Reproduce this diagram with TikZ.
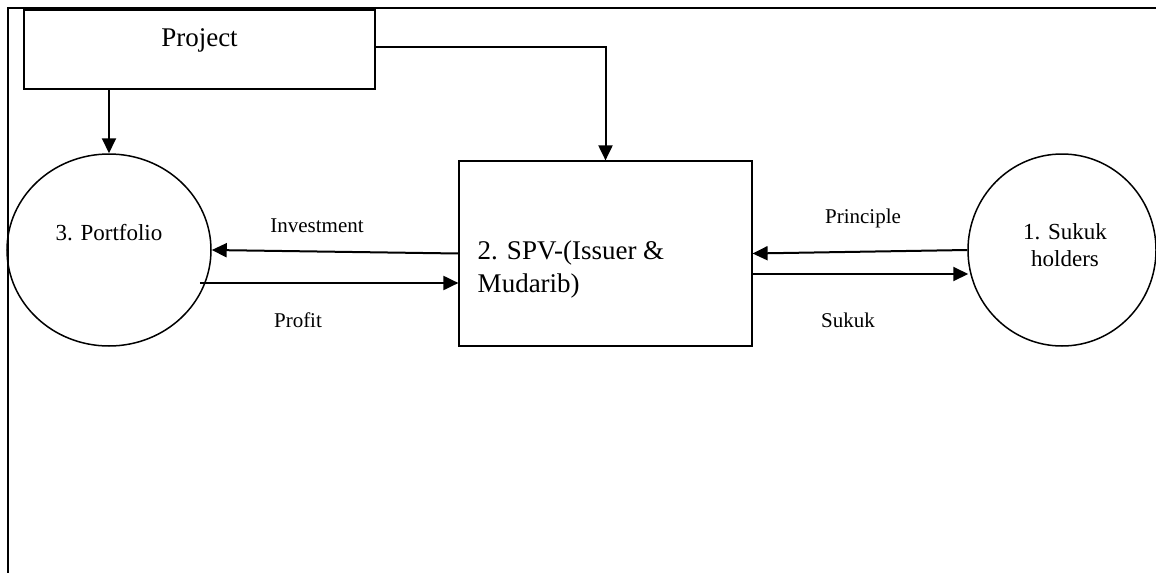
\documentclass[tikz,border=0pt]{standalone}
\usepackage{fontspec}
\setmainfont{Liberation Serif}
\usepackage{tikz}
\usetikzlibrary{arrows.meta,shapes.geometric,calc}
\tikzset{
  box/.style={draw, line width=0.6pt, rectangle, inner sep=0pt},
  ring/.style={draw, line width=0.75pt, ellipse, inner sep=0pt},
  arr/.style={line width=1pt, -{Triangle[length=7.5pt,width=7pt]}},
  bigtext/.style={font=\fontsize{13.5}{16.5}\selectfont},
  ringtext/.style={font=\fontsize{11.5}{13.5}\selectfont},
  flowtext/.style={font=\fontsize{10.5}{12}\selectfont, inner sep=0pt}
}

\begin{document}
\begin{tikzpicture} [x=0.5pt,y=-0.5pt]

\useasboundingbox (0,0) rectangle (1156,573);

\draw [line width=1pt] (1156,8) -- (8,8) -- (8,573);

\node [box, minimum width=175.5pt, minimum height=39.5pt,
  label={[bigtext, yshift=4.4pt]center:Project}] (project) at (199.5,49.5) {};
\node [box, minimum width=146.5pt, minimum height=92.5pt,
  label={[bigtext, align=left, xshift=-17.25pt, yshift=-8.25pt]center:{2. SPV-(Issuer \&\\Mudarib)}}] (spv) at (605.5,253.5) {};
\node [ring, minimum width=102pt, minimum height=96pt,
  label={[ringtext, yshift=8.5pt]center:3. Portfolio}] (portfolio) at (109,250) {};
\node [ring, minimum width=94pt, minimum height=96pt,
  label={[ringtext, align=center, xshift=1.5pt, yshift=2.25pt]center:{1. Sukuk\\holders}}] (sukuk) at (1062,250) {};

\node [flowtext] (invest) at (317,225.5) {Investment};
\node [flowtext] (profit) at (298,320.5) {Profit};
\node [flowtext] (principle) at (863,218) {Principle};
\node [flowtext] (issue) at (848,320) {Sukuk};

\coordinate (pfout) at ([shift={(-12,33)}]portfolio.east);
\coordinate (spvout) at ([shift={(0,20.5)}]spv.east);

\draw [arr] (project.south -| portfolio.north) -- (portfolio.north);
\draw [arr] ([yshift=1.25pt]project.east) -- ([yshift=1.25pt]project.east -| spv.north) -- (spv.north);
\draw [arr] (spv.west) -- (portfolio.east);
\draw [arr] (pfout) -- (pfout -| spv.west);
\draw [arr] (sukuk.west) -- (spv.east);
\draw [arr] (spvout) -- ($(spvout -| sukuk.west)+(1,0)$);

\end{tikzpicture}
\end{document}
